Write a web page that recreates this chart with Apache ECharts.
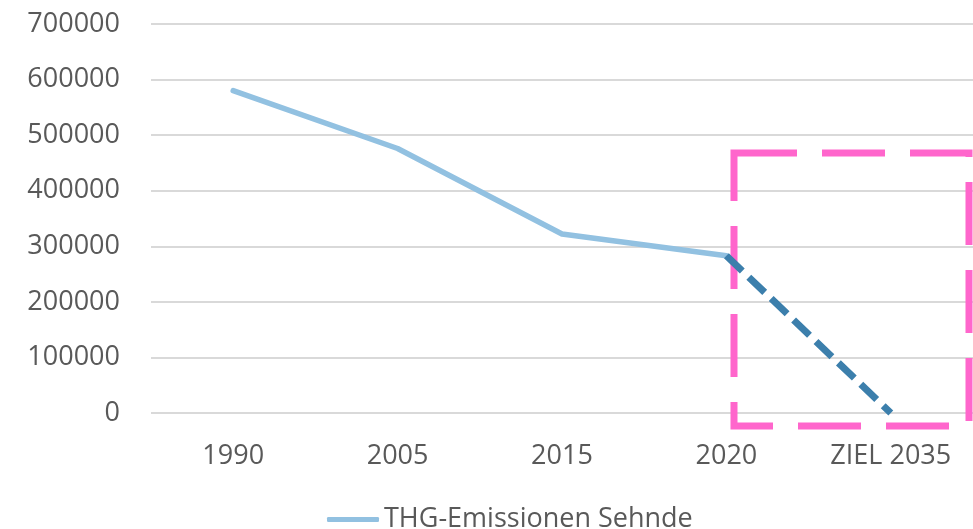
<!DOCTYPE html>
<html>
<head>
    <meta charset="utf-8">
    <title>THG-Emissionen Sehnde</title>
    <script src="https://cdn.jsdelivr.net/npm/echarts@6/dist/echarts.min.js"></script>
    <style>
        html, body { margin: 0; padding: 0; background: #fff; }
        #chart1 { width: 973px; height: 529px; }
    </style>
</head>
<body>
<div id="chart1"></div>
<script>
    // Daten
    var years = ['1990', '2005', '2015', '2020', 'ZIEL 2035'];
    var emissions = [580000, 476000, 322000, 283000, null];
    var target = [null, null, null, 283000, 0];
    var yTicks = [0, 100000, 200000, 300000, 400000, 500000, 600000, 700000];

    var textColor = '#595959';
    var fontName = 'Open Sans';

    var myChart1 = echarts.init(document.getElementById('chart1'));
    myChart1.setOption({
        animation: false,
        grid: {
            left: 151,
            right: -1,
            top: 24,
            bottom: 116,
            containLabel: false
        },
        legend: {
            data: [{ name: 'THG-Emissionen Sehnde', icon: 'roundRect' }],
            left: 322,
            top: 501,
            itemWidth: 52,
            itemHeight: 5,
            itemGap: 10,
            textStyle: { fontSize: 27, color: textColor, fontFamily: fontName }
        },
        xAxis: {
            type: 'category',
            data: years,
            boundaryGap: true,
            axisLine: { show: false },
            axisTick: { show: false },
            axisLabel: { fontSize: 27, color: textColor, fontFamily: fontName, margin: 30 }
        },
        yAxis: {
            type: 'value',
            min: yTicks[0],
            max: yTicks[yTicks.length - 1],
            interval: 100000,
            axisLine: { show: false },
            axisTick: { show: false },
            axisLabel: {
                fontSize: 27, color: textColor, fontFamily: fontName, margin: 31,
                formatter: function (v) { return String(v); }
            },
            splitLine: { lineStyle: { color: '#D9D9D9', width: 2 } }
        },
        graphic: [{
            type: 'rect',
            z: 1,
            shape: { x: 734, y: 153, width: 235, height: 273 },
            style: { fill: null, stroke: '#FF66CC', lineWidth: 7, lineDash: [63, 25] }
        }],
        series: [{
            name: 'THG-Emissionen Sehnde',
            type: 'line',
            data: emissions,
            symbol: 'none',
            z: 3,
            lineStyle: { color: '#92C1E1', width: 5.5, cap: 'round', join: 'round' },
            itemStyle: { color: '#92C1E1' }
        }, {
            name: 'Ziel',
            type: 'line',
            data: target,
            symbol: 'none',
            z: 4,
            lineStyle: { color: '#3C7FAC', width: 7, type: [22, 9] }
        }]
    });
</script>
</body>
</html>
